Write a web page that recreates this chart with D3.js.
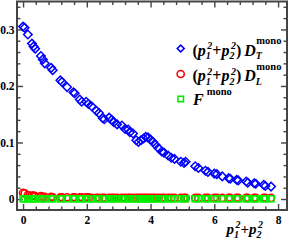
<!DOCTYPE html>
<html>
<head>
<meta charset="utf-8">
<script src="https://cdn.jsdelivr.net/npm/d3@7"></script>
<style>
  html, body { margin: 0; padding: 0; background: #fff; }
  svg { display: block; font-family: "Liberation Serif", "DejaVu Serif", serif; }
</style>
</head>
<body>
<svg id="chart" width="292" height="240"></svg>
<script>
// p1^2 + p2^2 values of the points
const pX = [0.00, 0.05, 0.15, 0.28, 0.33, 0.38, 0.56, 0.62, 0.68, 0.88,
            0.93, 1.17, 1.22, 1.38, 1.58, 1.62, 1.78, 1.84, 1.98, 2.05,
            2.15, 2.30, 2.38, 2.50, 2.55, 2.70, 2.78, 2.85, 2.95, 3.10,
            3.20, 3.30, 3.35, 3.45, 3.55, 3.62, 3.70, 3.78, 3.85, 3.92,
            4.00, 4.08, 4.15, 4.25, 4.35, 4.42, 4.55, 4.65, 4.75, 4.95,
            5.05, 5.10, 5.40, 5.50, 5.72, 5.80, 6.00, 6.08, 6.25, 6.45,
            6.50, 6.70, 6.75, 7.00, 7.05, 7.25, 7.30, 7.55, 7.60, 7.78];

// (p1^2+p2^2) D_T^mono
const dTmono = [0.305, 0.303, 0.291, 0.275, 0.270, 0.266, 0.253, 0.247, 0.240, 0.232,
                0.228, 0.210, 0.207, 0.198, 0.189, 0.187, 0.176, 0.172, 0.172, 0.168,
                0.164, 0.156, 0.152, 0.143, 0.141, 0.144, 0.140, 0.136, 0.132, 0.130,
                0.124, 0.123, 0.118, 0.116, 0.104, 0.101, 0.104, 0.107, 0.110, 0.109,
                0.105, 0.101, 0.096, 0.090, 0.084, 0.082, 0.077, 0.073, 0.071, 0.066,
                0.064, 0.066, 0.058, 0.055, 0.050, 0.048, 0.045, 0.044, 0.040, 0.037,
                0.036, 0.034, 0.033, 0.031, 0.029, 0.028, 0.027, 0.025, 0.023, 0.022];

// (p1^2+p2^2) D_L^mono
const dLmono = [0.011, 0.010, 0.007, 0.006, 0.006, 0.005, 0.005, 0.004, 0.004, 0.004,
                0.003, 0.003, 0.003, 0.003, 0.003, 0.003, 0.003, 0.003, 0.003, 0.003,
                0.002, 0.002, 0.002, 0.002, 0.002, 0.002, 0.002, 0.002, 0.002, 0.002,
                0.002, 0.002, 0.002, 0.002, 0.002, 0.002, 0.002, 0.002, 0.002, 0.002,
                0.002, 0.002, 0.002, 0.002, 0.002, 0.002, 0.002, 0.002, 0.002, 0.002,
                0.002, 0.002, 0.002, 0.002, 0.002, 0.002, 0.002, 0.002, 0.002, 0.002,
                0.002, 0.002, 0.002, 0.002, 0.002, 0.002, 0.002, 0.002, 0.002, 0.002];

// F^mono
const fMono = [0.0005, 0.0005, 0.0005, 0.0005, 0.0005, 0.0005, 0.0005, 0.0005, 0.0005, 0.0005,
               0.0005, 0.0005, 0.0005, 0.0005, 0.0005, 0.0005, 0.0005, 0.0005, 0.0005, 0.0005,
               0.0005, 0.0005, 0.0005, 0.0005, 0.0005, 0.0005, 0.0005, 0.0005, 0.0005, 0.0005,
               0.0005, 0.0005, 0.0005, 0.0005, 0.0005, 0.0005, 0.0005, 0.0005, 0.0005, 0.0005,
               0.0005, 0.0005, 0.0005, 0.0005, 0.0005, 0.0005, 0.0005, 0.0005, 0.0005, 0.0005,
               0.0005, 0.0005, 0.0005, 0.0005, 0.0005, 0.0005, 0.0005, 0.0005, 0.0005, 0.0005,
               0.0005, 0.0005, 0.0005, 0.0005, 0.0005, 0.0005, 0.0005, 0.0005, 0.0005, 0.0005];

const xTicks = [0, 2, 4, 6, 8];
const xMinor = [0.4, 0.8, 1.2, 1.6, 2.4, 2.8, 3.2, 3.6, 4.4, 4.8, 5.2, 5.6, 6.4, 6.8, 7.2, 7.6];
const yTicks = [0, 0.1, 0.2, 0.3];
const yTickLabels = ["0", "0.1", "0.2", "0.3"];
const yMinor = [0.02, 0.04, 0.06, 0.08, 0.12, 0.14, 0.16, 0.18, 0.22, 0.24, 0.26, 0.28, 0.32, 0.34];

const svg = d3.select("#chart");

const plotLeft = 17, plotRight = 287, plotTop = 1.5, plotBottom = 210;
const axisColor = "#444";

const xscale = d3.scaleLinear().domain([-0.19, 8.28]).range([plotLeft, plotRight]);
const yscale = d3.scaleLinear().domain([-0.0194, 0.3494]).range([plotBottom, plotTop]);

// ---- axes (ticks inward on all four sides)
function styleAxis(g) {
    g.select(".domain").remove();
    g.selectAll(".tick line").attr("stroke", axisColor).attr("stroke-width", 1.4);
    g.selectAll(".tick text")
        .attr("fill", "#000")
        .attr("font-size", 11.5)
        .attr("font-weight", "bold")
        .attr("font-family", "Liberation Serif, serif");
}

const axes = svg.append("g");

axes.append("g")
    .attr("transform", `translate(0,${plotBottom})`)
    .call(d3.axisBottom(xscale).tickValues(xTicks).tickSize(-6).tickPadding(6)
          .tickFormat(d3.format("d")))
    .call(styleAxis);
axes.append("g")
    .attr("transform", `translate(0,${plotBottom})`)
    .call(d3.axisBottom(xscale).tickValues(xMinor).tickSize(-3.5).tickFormat(""))
    .call(styleAxis);
axes.append("g")
    .attr("transform", `translate(0,${plotTop})`)
    .call(d3.axisTop(xscale).tickValues(xTicks).tickSize(-6).tickFormat(""))
    .call(styleAxis);
axes.append("g")
    .attr("transform", `translate(0,${plotTop})`)
    .call(d3.axisTop(xscale).tickValues(xMinor).tickSize(-3.5).tickFormat(""))
    .call(styleAxis);

axes.append("g")
    .attr("transform", `translate(${plotLeft},0)`)
    .call(d3.axisLeft(yscale).tickValues(yTicks).tickSize(-6).tickPadding(2.5)
          .tickFormat((d, i) => yTickLabels[i]))
    .call(styleAxis);
axes.append("g")
    .attr("transform", `translate(${plotLeft},0)`)
    .call(d3.axisLeft(yscale).tickValues(yMinor).tickSize(-3.5).tickFormat(""))
    .call(styleAxis);
axes.append("g")
    .attr("transform", `translate(${plotRight},0)`)
    .call(d3.axisRight(yscale).tickValues(yTicks).tickSize(-6).tickFormat(""))
    .call(styleAxis);
axes.append("g")
    .attr("transform", `translate(${plotRight},0)`)
    .call(d3.axisRight(yscale).tickValues(yMinor).tickSize(-3.5).tickFormat(""))
    .call(styleAxis);

svg.append("rect")
    .attr("x", plotLeft).attr("y", plotTop)
    .attr("width", plotRight - plotLeft).attr("height", plotBottom - plotTop)
    .attr("fill", "none")
    .attr("stroke", axisColor)
    .attr("stroke-width", 2);

// ---- markers
const plot = svg.append("g");

const sym = {
    diamond: d3.symbol().type(d3.symbolSquare).size(36),
    circle: d3.symbol().type(d3.symbolCircle).size(40),
    square: d3.symbol().type(d3.symbolSquare).size(36)
};
const legendSym = {
    diamond: d3.symbol().type(d3.symbolSquare).size(24),
    circle: d3.symbol().type(d3.symbolCircle).size(40),
    square: d3.symbol().type(d3.symbolSquare).size(30)
};

plot.append("g").selectAll("path")
    .data(pX.map((x, i) => [x, dLmono[i]]))
    .join("path")
    .attr("d", sym.circle)
    .attr("transform", d => `translate(${xscale(d[0])},${yscale(d[1])})`)
    .attr("fill", "none").attr("stroke", "#ff0000").attr("stroke-width", 1.6);

plot.append("g").selectAll("path")
    .data(pX.map((x, i) => [x, fMono[i]]))
    .join("path")
    .attr("d", sym.square)
    .attr("transform", d => `translate(${xscale(d[0])},${yscale(d[1])})`)
    .attr("fill", "none").attr("stroke", "#00f000").attr("stroke-width", 1.6);

plot.append("g").selectAll("path")
    .data(pX.map((x, i) => [x, dTmono[i]]))
    .join("path")
    .attr("d", sym.diamond)
    .attr("transform", d => `translate(${xscale(d[0])},${yscale(d[1])}) rotate(45)`)
    .attr("fill", "none").attr("stroke", "#0000ff").attr("stroke-width", 1.5);

// ---- rich text helper: pieces placed one after another
function richText(parent, x, y, pieces) {
    let cx = x;
    pieces.forEach(p => {
        const t = parent.append("text")
            .attr("x", cx + (p.dx || 0))
            .attr("y", y + (p.dy || 0))
            .attr("font-size", p.size)
            .attr("font-weight", "bold")
            .attr("font-style", p.it ? "italic" : "normal")
            .attr("fill", "#000")
            .text(p.t);
        const w = t.node().getComputedTextLength();
        if (!p.stack) cx += w + (p.dx || 0);
    });
}

function pSq(n, M, S) {
    return [
        { t: "p", it: true, size: M },
        { t: n, it: true, size: S, dy: 3.5, stack: true },
        { t: "2", it: true, size: S, dy: -6.5, dx: 1.5 }
    ];
}

const LM = 16, LS = 10;
const legend = svg.append("g");
const legendRows = [
    { y: 48.5, sym: "diamond", color: "#0000ff", sub: "T" },
    { y: 74, sym: "circle", color: "#ff0000", sub: "L" },
    { y: 99, sym: "square", color: "#00f000", sub: null }
];

legendRows.forEach(r => {
    legend.append("path")
        .attr("d", legendSym[r.sym])
        .attr("transform", `translate(180.7,${r.y})` + (r.sym === "diamond" ? " rotate(45)" : ""))
        .attr("fill", "none").attr("stroke", r.color).attr("stroke-width", 1.6);
    const base = r.y + 7;
    if (r.sub) {
        richText(legend, 192.5, base, [
            { t: "(", size: LM },
            ...pSq("1", LM, LS),
            { t: "+", size: LM },
            ...pSq("2", LM, LS),
            { t: ")", size: LM },
            { t: "D", it: true, size: LM, dx: 3 },
            { t: r.sub, it: true, size: LS, dy: 3.5, stack: true },
            { t: "mono", size: LS + 0.5, dy: -11.5, dx: 0.5 }
        ]);
    } else {
        richText(legend, 193, base - 1.5, [
            { t: "F", it: true, size: LM },
            { t: "mono", size: LS + 0.5, dy: -9.5, dx: 3 }
        ]);
    }
});

// ---- x axis title
richText(svg, 226.5, 234, [
    ...pSq("1", 15, 10),
    { t: "+", size: 15 },
    ...pSq("2", 15, 10)
]);
</script>
</body>
</html>
